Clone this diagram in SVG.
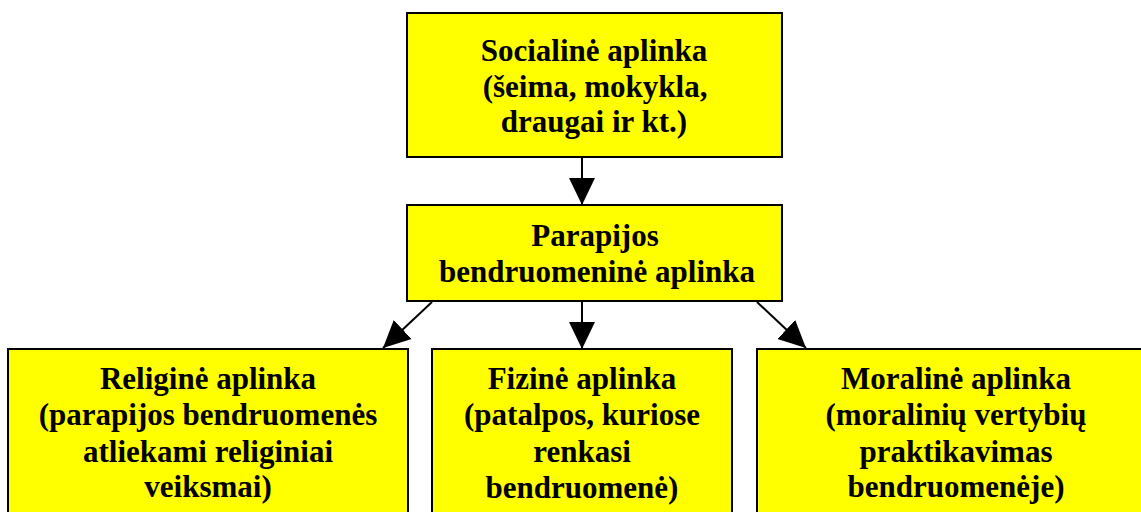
<svg xmlns="http://www.w3.org/2000/svg" width="1141" height="512" viewBox="0 0 1141 512">
<style>
.box{fill:#FFFF00;stroke:#000;stroke-width:2}
.t{font-family:"Liberation Serif","Times New Roman",serif;font-weight:bold;font-size:31px;fill:#000;text-anchor:middle}
.c{stroke:#000;stroke-width:2;fill:none;marker-end:url(#ah)}
</style>
<defs>
<marker id="ah" markerUnits="userSpaceOnUse" markerWidth="28" markerHeight="28" refX="27" refY="13" orient="auto" viewBox="0 0 28 26">
<path d="M0,0 L27,13 L0,26 Z" fill="#000"/>
</marker>
</defs>
<rect width="1141" height="512" fill="#fff"/>
<g id="connectors">
<line class="c" x1="582" y1="157" x2="582" y2="205"/>
<line class="c" x1="582" y1="301" x2="582" y2="349"/>
<line class="c" x1="432" y1="302" x2="383" y2="348"/>
<line class="c" x1="757" y1="302" x2="806" y2="348"/>
</g>
<g id="social">
<rect class="box" x="407" y="13" width="375" height="144"/>
<text class="t" x="594" y="61">Socialinė aplinka</text>
<text class="t" x="595" y="96.5">(šeima, mokykla,</text>
<text class="t" x="594" y="131.5">draugai ir kt.)</text>
</g>
<g id="parish">
<rect class="box" x="407" y="205" width="375" height="96"/>
<text class="t" x="595" y="245.5">Parapijos</text>
<text class="t" x="597" y="281.5">bendruomeninė aplinka</text>
</g>
<g id="religious">
<rect class="box" x="8" y="349" width="400" height="180"/>
<text class="t" x="208" y="389">Religinė aplinka</text>
<text class="t" x="208" y="425">(parapijos bendruomenės</text>
<text class="t" x="208" y="461.5">atliekami religiniai</text>
<text class="t" x="208" y="497">veiksmai)</text>
</g>
<g id="physical">
<rect class="box" x="432" y="349" width="300" height="180"/>
<text class="t" x="582" y="389">Fizinė aplinka</text>
<text class="t" x="582" y="425">(patalpos, kuriose</text>
<text class="t" x="582" y="461.5">renkasi</text>
<text class="t" x="582" y="497.5">bendruomenė)</text>
</g>
<g id="moral">
<rect class="box" x="757" y="349" width="420" height="180"/>
<text class="t" x="956" y="389">Moralinė aplinka</text>
<text class="t" x="956" y="425">(moralinių vertybių</text>
<text class="t" x="956" y="461.5">praktikavimas</text>
<text class="t" x="956" y="497">bendruomenėje)</text>
</g>
</svg>
